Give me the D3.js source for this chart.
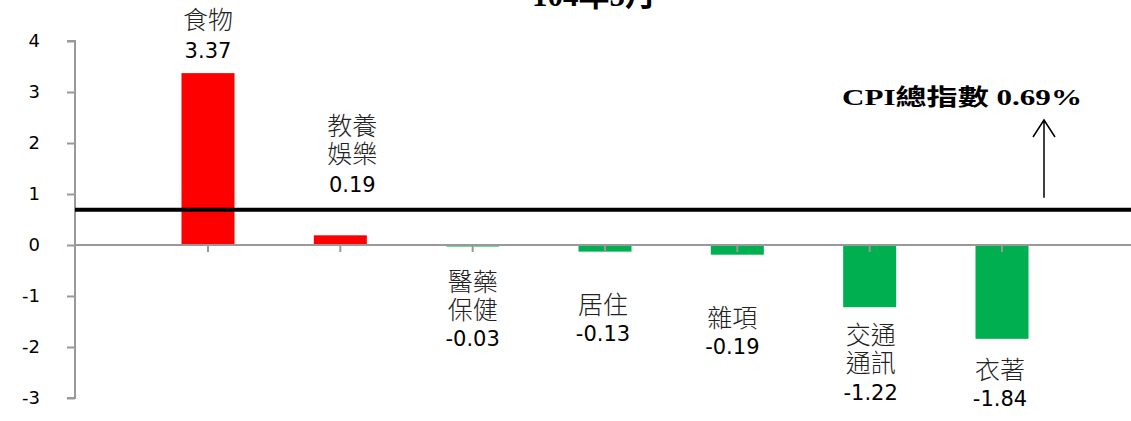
<!DOCTYPE html>
<html lang="zh-Hant">
	<head>
		<meta charset="utf-8">
		<title>CPI 各類指數漲跌貢獻</title>
		<script type="text/javascript" src="https://cdn.jsdelivr.net/npm/d3@7"></script>
		<style type="text/css">
			body { margin: 0; background: #fff; }
			svg { display: block; }
		</style>
	</head>
	<body>
		<script type="text/javascript">

			// data
			var categories = ["食物", "教養娛樂", "醫藥保健", "居住", "雜項", "交通通訊", "衣著"];
			var nameLines = [["食物"], ["教養", "娛樂"], ["醫藥", "保健"], ["居住"], ["雜項"], ["交通", "通訊"], ["衣著"]];
			var values = [3.37, 0.19, -0.03, -0.13, -0.19, -1.22, -1.84];
			var yTicks = [4, 3, 2, 1, 0, -1, -2, -3];
			var cpiTotal = 0.69;
			var titleText = "104年5月";

			// label placement (px gap from bar end, x nudge)
			var labelGap = [23, 51, 35, 53, 63, 28, 31];
			var labelDx = [0, 12, 0, -2, -5, 1, -2];

			var w = 1131;
			var h = 421;

			var svg = d3.select("body")
						.append("svg")
						.attr("width", w)
						.attr("height", h);

			var y = d3.scaleLinear()
						.domain([-3, 4])
						.range([398, 41]);

			var x = d3.scalePoint()
						.domain(categories)
						.range([208, 1002]);

			var barW = 53;

			// title (mostly cropped off the top)
			svg.append("text")
				.attr("x", 594)
				.attr("y", 6)
				.attr("text-anchor", "middle")
				.style("font-family", "'Liberation Serif', 'Noto Sans CJK TC', serif")
				.style("font-weight", "bold")
				.style("font-size", "31px")
				.text(titleText);

			// bars
			svg.selectAll("rect.bar")
				.data(values)
				.enter()
				.append("rect")
				.attr("class", "bar")
				.attr("x", function(d, i) { return x(categories[i]) - barW / 2; })
				.attr("y", function(d) { return y(Math.max(0, d)); })
				.attr("width", barW)
				.attr("height", function(d) { return Math.max(1.5, Math.abs(y(d) - y(0))); })
				.style("fill", function(d) { return d >= 0 ? "#ff0000" : "#00b050"; });

			// y axis
			var yAxis = d3.axisLeft(y)
						.tickValues(yTicks)
						.tickSize(8)
						.tickPadding(27)
						.tickFormat(function(d) { return String(d); });

			var gy = svg.append("g")
						.attr("transform", "translate(75,0)")
						.call(yAxis);
			gy.select(".domain").attr("stroke", "#999").attr("stroke-width", 2).attr("d", "M-8," + y(4) + "H0V" + y(-3) + "H-8");
			gy.selectAll(".tick line").attr("stroke", "#999").attr("stroke-width", 2);
			gy.selectAll(".tick text")
				.style("font-family", "'DejaVu Sans', Verdana, sans-serif")
				.style("font-size", "18px")
				.attr("fill", "#000");

			// zero baseline with category ticks
			svg.append("line")
				.attr("x1", 75).attr("x2", w)
				.attr("y1", y(0)).attr("y2", y(0))
				.attr("stroke", "#999")
				.attr("stroke-width", 2);

			svg.selectAll("line.xtick")
				.data(categories)
				.enter()
				.append("line")
				.attr("class", "xtick")
				.attr("x1", function(d) { return x(d); })
				.attr("x2", function(d) { return x(d); })
				.attr("y1", y(0))
				.attr("y2", y(0) + 7)
				.attr("stroke", "#999")
				.attr("stroke-width", 2);

			// CPI total line
			svg.append("line")
				.attr("x1", 75).attr("x2", w)
				.attr("y1", y(cpiTotal)).attr("y2", y(cpiTotal))
				.attr("stroke", "#000")
				.attr("stroke-width", 4);

			// arrow
			var ax = 1044;
			svg.append("path")
				.attr("d", "M" + ax + "," + (y(cpiTotal) - 12) + "V120M" + (ax - 11) + ",137L" + ax + ",120L" + (ax + 11) + ",137")
				.attr("fill", "none")
				.attr("stroke", "#000")
				.attr("stroke-width", 1.5);

			svg.append("text")
				.attr("x", 842)
				.attr("y", 105)
				.attr("textLength", 240)
				.attr("lengthAdjust", "spacingAndGlyphs")
				.style("font-family", "'Liberation Serif', 'Noto Sans CJK TC', serif")
				.style("font-weight", "bold")
				.style("font-size", "23px")
				.text("CPI總指數  " + cpiTotal.toFixed(2) + "%");

			// data labels: one text per bar, lines as tspans
			svg.selectAll("text.label")
				.data(values)
				.enter()
				.append("text")
				.attr("class", "label")
				.attr("text-anchor", "middle")
				.each(function(d, i) {
					var t = d3.select(this);
					var cx = x(categories[i]) + labelDx[i];
					var lines = nameLines[i];
					var ys = [];
					var numY;
					if (d >= 0) {
						numY = y(d) - labelGap[i];
						for (var k = 0; k < lines.length; k++) {
							ys.push(numY - 30 - 28 * (lines.length - 1 - k));
						}
					} else {
						var top = y(d) + labelGap[i];
						for (var k = 0; k < lines.length; k++) {
							ys.push(top + 28 * k);
						}
						numY = ys[ys.length - 1] + 29;
					}
					lines.forEach(function(s, k) {
						t.append("tspan")
							.attr("x", cx)
							.attr("y", ys[k])
							.attr("dy", "0.36em")
							.style("font-family", "'Noto Sans CJK TC', sans-serif")
							.style("font-size", "25px")
							.style("font-weight", "300")
							.attr("fill", "#222")
							.text(s);
					});
					t.append("tspan")
						.attr("x", cx)
						.attr("y", numY)
						.attr("dy", "0.36em")
						.style("font-family", "'DejaVu Sans', Verdana, sans-serif")
						.style("font-size", "21px")
						.attr("fill", "#000")
						.text(d.toFixed(2));
				});

		</script>
	</body>
</html>
